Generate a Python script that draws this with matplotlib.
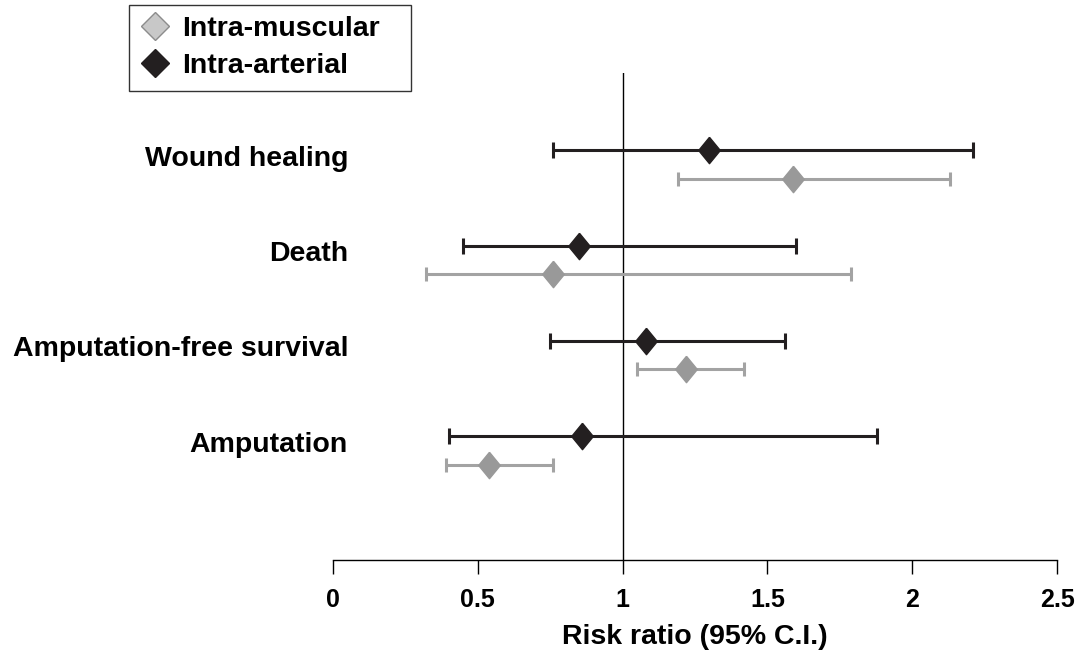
import numpy as np
import matplotlib.pyplot as plt
from matplotlib.lines import Line2D

plt.rcParams['font.family'] = ['Liberation Sans', 'DejaVu Sans']
plt.rcParams['font.weight'] = 'bold'

outcomes = ['Wound healing', 'Death', 'Amputation-free survival', 'Amputation']

# risk ratios with 95% confidence limits
ia_rr = [1.30, 0.85, 1.08, 0.86]
ia_lo = [0.76, 0.45, 0.75, 0.40]
ia_hi = [2.21, 1.60, 1.56, 1.88]

im_rr = [1.59, 0.76, 1.22, 0.54]
im_lo = [1.19, 0.32, 1.05, 0.39]
im_hi = [2.13, 1.79, 1.42, 0.76]

xticks = [0, 0.5, 1, 1.5, 2, 2.5]
xticklabels = ['0', '0.5', '1', '1.5', '2', '2.5']

dark = '#231f20'
grey_line = '#a3a3a3'
grey_mark = '#999999'
diamond = [(0, 1), (0.82, 0), (0, -1), (-0.82, 0), (0, 1)]

fig = plt.figure(figsize=(10.83, 6.58), dpi=100)
ax = fig.add_axes([0.3075, 0.149, 0.6685, 0.74])

pos = np.arange(len(outcomes))
ia_rr = np.array(ia_rr); im_rr = np.array(im_rr)
ia_err = [ia_rr - np.array(ia_lo), np.array(ia_hi) - ia_rr]
im_err = [im_rr - np.array(im_lo), np.array(im_hi) - im_rr]

ax.errorbar(ia_rr, pos, xerr=ia_err, fmt='none', ecolor=dark, elinewidth=2.2,
            capsize=6, capthick=2.2, zorder=3)
ax.plot(ia_rr, pos, ls='none', marker=diamond, ms=19, color=dark, zorder=4)

ax.errorbar(im_rr, pos + 0.3, xerr=im_err, fmt='none', ecolor=grey_line, elinewidth=2.2,
            capsize=5, capthick=2.2, zorder=3)
ax.plot(im_rr, pos + 0.3, ls='none', marker=diamond, ms=19, color=grey_mark, zorder=4)

ax.axvline(1, color='black', lw=1, zorder=2)

ax.set_xlim(0, 2.5)
ax.set_ylim(4.30, -0.81)
ax.set_xticks(xticks)
ax.set_xticklabels(xticklabels, fontsize=18, fontweight='bold')
ax.tick_params(axis='x', direction='out', length=10, width=1, pad=10)
ax.set_yticks([])
for s in ['top', 'right', 'left']:
    ax.spines[s].set_visible(False)
ax.spines['bottom'].set_linewidth(1)
ax.set_xlabel('Risk ratio (95% C.I.)', fontsize=20.5, fontweight='bold', labelpad=9)

for i, name in enumerate(outcomes):
    ax.text(0.0207, i + 0.09, name, transform=ax.get_yaxis_transform(),
            ha='right', va='center', fontsize=20.5, fontweight='bold')

handles = [
    Line2D([], [], ls='none', marker='D', ms=14, markerfacecolor='#c8c8c8',
           markeredgecolor='#8c8c8c', markeredgewidth=1),
    Line2D([], [], ls='none', marker='D', ms=14, color=dark),
]
leg = fig.legend(handles, ['Intra-muscular', 'Intra-arterial'], loc='upper left',
                 bbox_to_anchor=(129 / 1083, 1 - 95 / 658, 282 / 1083, 90 / 658),
                 mode='expand', prop={'weight': 'bold', 'size': 20.5}, fancybox=False,
                 handlelength=1.0, handletextpad=0.45, borderpad=0.4,
                 labelspacing=0.38, borderaxespad=0)
leg.get_frame().set_edgecolor('black')
leg.get_frame().set_linewidth(1)

fig.savefig('out.png', dpi=100)
